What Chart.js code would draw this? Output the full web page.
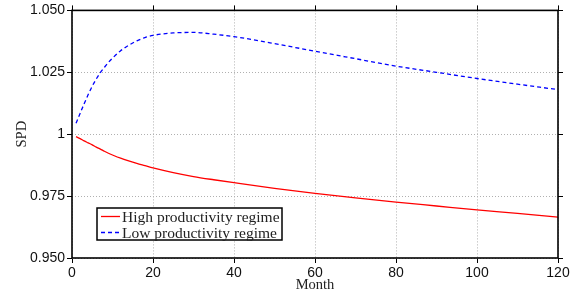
<!DOCTYPE html>
<html>
<head>
<meta charset="utf-8">
<script src="https://cdn.jsdelivr.net/npm/chart.js@4.4.0/dist/chart.umd.min.js"></script>
<style>
  html, body { margin: 0; padding: 0; background: #fff; }
  #wrap { width: 578px; height: 297px; position: relative; }
</style>
</head>
<body>
<div id="wrap"><canvas id="spdChart" width="578" height="297"></canvas></div>
<script>
const months = [1, 2, 3, 4, 5, 6, 7, 8, 9, 10, 12, 14, 16, 18, 20, 25, 30, 35, 40, 50, 60, 70, 80, 90, 100, 110, 120];

const highRegime = [0.9990, 0.9982, 0.9973, 0.9965, 0.9957, 0.9948, 0.9940, 0.9931, 0.9923, 0.9916,
    0.9903, 0.9892, 0.9882, 0.9873, 0.9864, 0.9845, 0.9829, 0.9816, 0.9804, 0.9781,
    0.9761, 0.9743, 0.9726, 0.9710, 0.9694, 0.9680, 0.9665];

const lowRegime = [1.0044, 1.0084, 1.0123, 1.0160, 1.0194, 1.0223, 1.0249, 1.0270, 1.0290, 1.0307,
    1.0337, 1.0359, 1.0377, 1.0390, 1.0399, 1.0409, 1.0411, 1.0404, 1.0394, 1.0366,
    1.0335, 1.0305, 1.0275, 1.0250, 1.0225, 1.0202, 1.0180];

const seriesLabels = ['High productivity regime', 'Low productivity regime'];
const yTickValues = [0.950, 0.975, 1, 1.025, 1.050];
const yTickLabels = ['0.950', '0.975', '1', '1.025', '1.050'];
const xTickValues = [0, 20, 40, 60, 80, 100, 120];

const TICK_FONT = { family: 'Liberation Sans', size: 14 };
const TITLE_FONT = { family: 'Liberation Serif', size: 14.5 };

function toPoints(values) {
    return months.map(function (m, i) { return { x: m, y: values[i] }; });
}

// frame and outer ticks on top/right, like the matlab style box
const framePlugin = {
    id: 'frame',
    afterDraw: function (chart) {
        const ctx = chart.ctx;
        const a = chart.chartArea;
        const xs = chart.scales.x;
        const ys = chart.scales.y;
        ctx.save();
        ctx.strokeStyle = '#000';
        ctx.lineWidth = 1;
        ctx.beginPath();
        xTickValues.forEach(function (v) {
            const px = Math.round(xs.getPixelForValue(v)) + 0.5;
            ctx.moveTo(px, a.top);
            ctx.lineTo(px, a.top - 5);
        });
        yTickValues.forEach(function (v) {
            const py = Math.round(ys.getPixelForValue(v)) + 0.5;
            ctx.moveTo(a.right, py);
            ctx.lineTo(a.right + 5, py);
        });
        ctx.stroke();
        ctx.lineWidth = 1.6;
        ctx.strokeRect(a.left, a.top, a.right - a.left, a.bottom - a.top);
        ctx.restore();
    }
};

// boxed legend inside the plot, bottom left
const legendBoxPlugin = {
    id: 'legendBox',
    afterDraw: function (chart) {
        const ctx = chart.ctx;
        const a = chart.chartArea;
        const left = a.left + 25;
        const top = a.bottom - 50;
        const w = 185;
        const h = 32;
        ctx.save();
        ctx.fillStyle = '#fff';
        ctx.fillRect(left, top, w, h);
        ctx.strokeStyle = '#000';
        ctx.lineWidth = 1.5;
        ctx.strokeRect(left, top, w, h);
        ctx.font = '15.5px "Liberation Serif"';
        ctx.textBaseline = 'middle';
        chart.data.datasets.forEach(function (ds, i) {
            const cy = top + 8.5 + i * 16;
            ctx.strokeStyle = ds.borderColor;
            ctx.lineWidth = ds.borderWidth;
            ctx.setLineDash(ds.borderDash || []);
            ctx.beginPath();
            ctx.moveTo(left + 4, cy);
            ctx.lineTo(left + 23, cy);
            ctx.stroke();
            ctx.setLineDash([]);
            ctx.fillStyle = '#222';
            ctx.fillText(ds.label, left + 25, cy + 1);
        });
        ctx.restore();
    }
};

let spdChart = new Chart(document.getElementById('spdChart').getContext('2d'), {
    type: 'line',
    data: {
        datasets: [
            {
                label: seriesLabels[0],
                data: toPoints(highRegime),
                borderColor: '#ff0000',
                borderWidth: 1.3,
                pointRadius: 0,
                cubicInterpolationMode: 'monotone',
                fill: false
            },
            {
                label: seriesLabels[1],
                data: toPoints(lowRegime),
                borderColor: '#0000ff',
                borderWidth: 1.3,
                borderDash: [4, 3],
                pointRadius: 0,
                cubicInterpolationMode: 'monotone',
                fill: false
            }
        ]
    },
    options: {
        responsive: false,
        animation: false,
        devicePixelRatio: 1,
        layout: { padding: { left: 0, right: 20, top: 10, bottom: 0 } },
        plugins: {
            legend: { display: false },
            tooltip: { enabled: false }
        },
        scales: {
            x: {
                type: 'linear',
                min: 0,
                max: 120,
                afterBuildTicks: function (scale) {
                    scale.ticks = xTickValues.map(function (v) { return { value: v }; });
                },
                ticks: {
                    font: TICK_FONT,
                    color: '#111',
                    padding: 2,
                    maxRotation: 0,
                    callback: function (v) { return String(v); }
                },
                grid: {
                    color: '#b0b0b0',
                    lineWidth: 1,
                    tickColor: '#000',
                    tickLength: 5
                },
                border: { display: false, dash: [1, 2] },
                title: {
                    display: true,
                    text: 'Month',
                    font: TITLE_FONT,
                    color: '#222',
                    padding: { top: 0, bottom: 3 }
                },
                afterFit: function (scale) { scale.height = 39; }
            },
            y: {
                min: 0.95,
                max: 1.05,
                afterBuildTicks: function (scale) {
                    scale.ticks = yTickValues.map(function (v) { return { value: v }; });
                },
                ticks: {
                    font: TICK_FONT,
                    color: '#111',
                    padding: 2,
                    callback: function (v) {
                        const i = yTickValues.findIndex(function (t) { return Math.abs(t - v) < 1e-9; });
                        return i >= 0 ? yTickLabels[i] : '';
                    }
                },
                grid: {
                    color: '#b0b0b0',
                    lineWidth: 1,
                    tickColor: '#000',
                    tickLength: 5
                },
                border: { display: false, dash: [1, 2] },
                title: {
                    display: true,
                    text: 'SPD',
                    font: TITLE_FONT,
                    color: '#222',
                    padding: { top: 13, bottom: 0 }
                },
                afterFit: function (scale) { scale.width = 72; }
            }
        }
    },
    plugins: [framePlugin, legendBoxPlugin]
});
</script>
</body>
</html>
